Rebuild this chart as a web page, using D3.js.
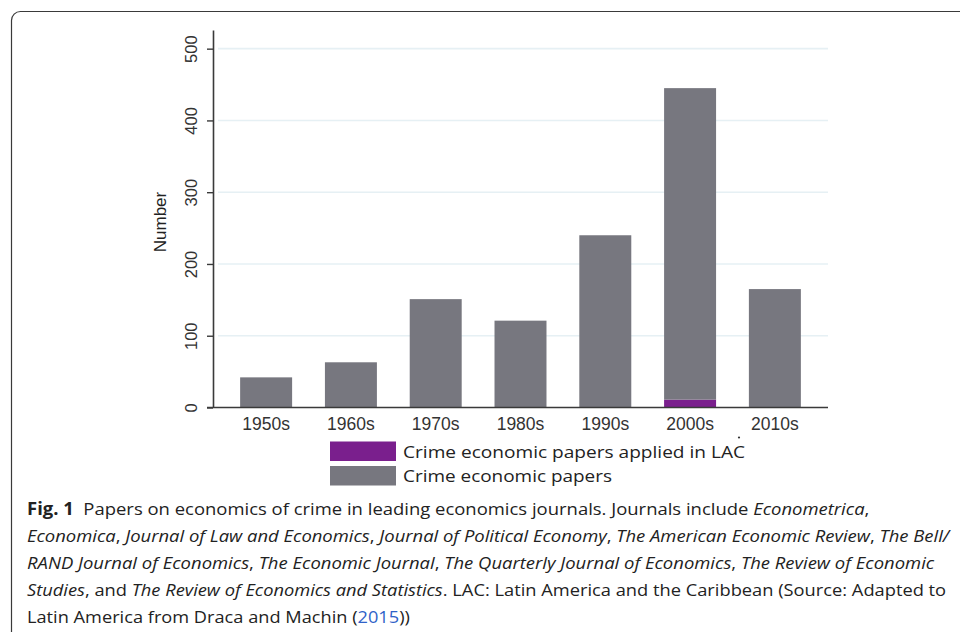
<!DOCTYPE html>
<html>
<head>
<meta charset="utf-8">
<script src="https://cdn.jsdelivr.net/npm/d3@7"></script>
<style>
  html, body { margin: 0; padding: 0; background: #fff; }
  svg { display: block; }
</style>
</head>
<body>
<svg id="chart" width="960" height="632"></svg>
<script>
// ---- data ----
const decades = ["1950s", "1960s", "1970s", "1980s", "1990s", "2000s", "2010s"];
const crimePapers = [42, 63, 151, 121, 240, 445, 165];
const lacPapers = [0, 0, 0, 0, 0, 11, 0];
const yTicks = [0, 100, 200, 300, 400, 500];
const legendLabels = ["Crime economic papers applied in LAC", "Crime economic papers"];
const seriesColors = ["#7a1f8d", "#77777f"];

const captionLines = [
  [{t: "Fig. 1", b: true}, {t: "  Papers on economics of crime in leading economics journals. Journals include "}, {t: "Econometrica", i: true}, {t: ","}],
  [{t: "Economica", i: true}, {t: ", "}, {t: "Journal of Law and Economics", i: true}, {t: ", "}, {t: "Journal of Political Economy", i: true}, {t: ", "}, {t: "The American Economic Review", i: true}, {t: ", "}, {t: "The Bell/", i: true}],
  [{t: "RAND Journal of Economics", i: true}, {t: ", "}, {t: "The Economic Journal", i: true}, {t: ", "}, {t: "The Quarterly Journal of Economics", i: true}, {t: ", "}, {t: "The Review of Economic", i: true}],
  [{t: "Studies", i: true}, {t: ", and "}, {t: "The Review of Economics and Statistics", i: true}, {t: ". LAC: Latin America and the Caribbean (Source: Adapted to"}],
  [{t: "Latin America from Draca and Machin ("}, {t: "2015", link: true}, {t: "))"}]
];
const captionWidths = [843, 923, 908, 920, 383];

// ---- layout ----
const svg = d3.select("#chart");

// frame
svg.append("rect")
  .attr("x", 11.5).attr("y", 11.5)
  .attr("width", 1000).attr("height", 700)
  .attr("rx", 9).attr("ry", 9)
  .attr("fill", "none").attr("stroke", "#3a3a3a").attr("stroke-width", 1.2);

const x = d3.scaleBand().domain(decades).range([213, 828]).paddingInner(0.387).paddingOuter(0.32);
const y = d3.scaleLinear().domain([0, 526]).range([407.5, 30]);

// gridlines
svg.append("g").selectAll("line").data(yTicks.filter(d => d > 0)).join("line")
  .attr("x1", 218).attr("x2", 828)
  .attr("y1", d => y(d)).attr("y2", d => y(d))
  .attr("stroke", "#e6f0f4").attr("stroke-width", 1.6);

// stacked bars
const stackData = decades.map((d, i) => ({decade: d, lac: lacPapers[i], rest: crimePapers[i] - lacPapers[i]}));
const stack = d3.stack().keys(["lac", "rest"])(stackData);
svg.append("g").selectAll("g").data(stack).join("g")
  .attr("fill", (s, i) => seriesColors[i])
  .selectAll("rect").data(s => s).join("rect")
  .attr("x", d => x(d.data.decade))
  .attr("width", x.bandwidth())
  .attr("y", d => y(d[1]))
  .attr("height", d => y(d[0]) - y(d[1]));

// y axis
const yAxis = svg.append("g").attr("transform", "translate(213,0)")
  .call(d3.axisLeft(y).tickValues(yTicks).tickSize(6).tickSizeOuter(0).tickPadding(0));
yAxis.select(".domain").attr("stroke", "#3a3a3a").attr("stroke-width", 1.6);
yAxis.selectAll(".tick line").attr("stroke", "#3a3a3a").attr("stroke-width", 1.4);
yAxis.selectAll(".tick text")
  .attr("x", null).attr("dy", null)
  .attr("transform", "translate(-16,0) rotate(-90)")
  .attr("text-anchor", "middle")
  .attr("dominant-baseline", "auto")
  .attr("font-family", "Liberation Sans, Arial, sans-serif")
  .attr("font-size", 16.5)
  .attr("fill", "#333");
// fix baseline so glyphs sit centred around x≈191
yAxis.selectAll(".tick text").attr("transform", "translate(-16,0) rotate(-90)").attr("y", 0);

// x axis
const xAxis = svg.append("g").attr("transform", "translate(0,407.5)")
  .call(d3.axisBottom(x).tickSize(0).tickSizeOuter(0).tickPadding(0));
xAxis.select(".domain").remove();
xAxis.selectAll(".tick text")
  .attr("y", 22).attr("dy", null)
  .attr("font-family", "Liberation Sans, Arial, sans-serif")
  .attr("font-size", 17.5)
  .attr("fill", "#333");
svg.append("line").attr("x1", 207).attr("x2", 828).attr("y1", 407.5).attr("y2", 407.5)
  .attr("stroke", "#3a3a3a").attr("stroke-width", 1.6);

// y axis title
svg.append("text")
  .attr("transform", "translate(166,222) rotate(-90)")
  .attr("text-anchor", "middle")
  .attr("font-family", "Liberation Sans, Arial, sans-serif")
  .attr("font-size", 17)
  .attr("fill", "#222")
  .text("Number");

// legend
const legend = svg.append("g");
const lg = legend.selectAll("g").data(legendLabels).join("g")
  .attr("transform", (d, i) => `translate(330,${441.5 + i * 24.5})`);
lg.append("rect").attr("width", 66).attr("height", 19.5).attr("fill", (d, i) => seriesColors[i]);
lg.append("text").attr("x", 73).attr("y", 16)
  .attr("font-family", "Open Sans, sans-serif").attr("font-size", 16.5)
  .attr("fill", "#222").text(d => d)
  .each(function(d, i) {
    const target = i === 0 ? 342 : 209;
    const w = this.getComputedTextLength();
    d3.select(this).attr("textLength", target).attr("lengthAdjust", "spacingAndGlyphs");
  });
// small stray dot from the source image
svg.append("circle").attr("cx", 739).attr("cy", 437.5).attr("r", 1.1).attr("fill", "#333");

// caption
const cap = svg.append("g");
captionLines.forEach((line, li) => {
  const t = cap.append("text")
    .attr("x", 0).attr("y", 0)
    .attr("font-family", "Open Sans, sans-serif")
    .attr("font-size", 17)
    .attr("fill", "#222")
    .attr("xml:space", "preserve")
    .style("white-space", "pre");
  line.forEach(seg => {
    t.append("tspan")
      .attr("font-weight", seg.b ? 700 : 400)
      .attr("font-style", seg.i ? "italic" : "normal")
      .attr("fill", seg.link ? "#2f62c8" : "#222")
      .text(seg.t);
  });
  const w = t.node().getComputedTextLength();
  const s = captionWidths[li] / w;
  t.attr("transform", `translate(27,${515 + li * 27}) scale(${s},1)`);
});
</script>
</body>
</html>
